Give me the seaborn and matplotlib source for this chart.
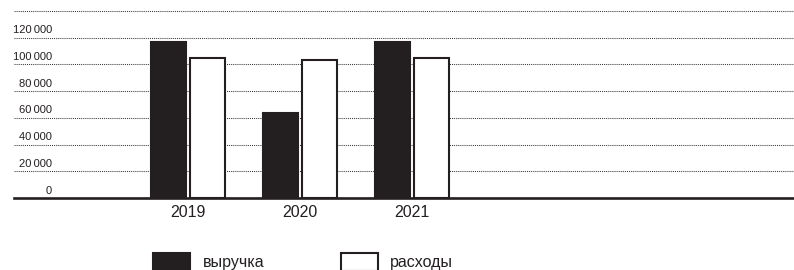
import matplotlib
matplotlib.use("Agg")
import matplotlib.pyplot as plt
import matplotlib.transforms as mtransforms
import seaborn as sns
import pandas as pd

years = ["2019", "2020", "2021"]
revenue = [117000, 64000, 117000]
expenses = [105000, 103000, 105000]
series_names = ["выручка", "расходы"]
ytick_values = [0, 20000, 40000, 60000, 80000, 100000, 120000, 140000]
ytick_labels = ["0", "20\u2009000", "40\u2009000", "60\u2009000", "80\u2009000",
                "100\u2009000", "120\u2009000", ""]

df = pd.DataFrame({
    "year": years * 2,
    "value": revenue + expenses,
    "series": [series_names[0]] * 3 + [series_names[1]] * 3,
})

sns.set_theme(style="white")
plt.rcParams["font.family"] = ["Liberation Sans", "DejaVu Sans"]

INK = "#231f20"
W, H = 794, 270
fig = plt.figure(figsize=(W / 100, H / 100), dpi=100)
ax = fig.add_axes([14 / W, (H - 198) / H, 780 / W, (198 - 8.3) / H])

sns.barplot(data=df, x="year", y="value", hue="series", order=years,
            hue_order=series_names, palette=[INK, "#ffffff"],
            edgecolor=INK, linewidth=1.5, width=0.7, gap=0.1,
            saturation=1, ax=ax, zorder=3)

ax.set_xlim(-1.554, 5.41)
ax.set_ylim(0, 142000)
ax.set_yticks(ytick_values)
ax.set_yticklabels([])
ax.tick_params(axis="y", length=0)
ax.tick_params(axis="x", length=0, pad=5, labelsize=11.5, labelcolor=INK)
ax.set_xlabel("")
ax.set_ylabel("")
ax.yaxis.grid(True, color="#3a3a3a", linestyle=(0, (1, 1)), linewidth=0.75, zorder=0)
ax.set_axisbelow(True)
for s in ["top", "left", "right"]:
    ax.spines[s].set_visible(False)
ax.spines["bottom"].set_color(INK)
ax.spines["bottom"].set_linewidth(1.9)
ax.spines["bottom"].set_zorder(4)

trans = mtransforms.offset_copy(ax.get_yaxis_transform(), fig=fig, x=0, y=4.5, units="dots")
for v, lab in zip(ytick_values, ytick_labels):
    if lab:
        ax.text((52 - 14) / 780, v, lab, transform=trans, ha="right", va="baseline",
                fontsize=8, color=INK)

sns.move_legend(ax, loc="center left", bbox_to_anchor=(153 / W, 1 - 262 / H),
                bbox_transform=fig.transFigure, ncol=2, frameon=False, title=None,
                fontsize=11.5, handlelength=2.3, handleheight=1.35,
                handletextpad=0.8, columnspacing=4.8, borderpad=0, borderaxespad=0)
leg = ax.get_legend()
for t in leg.get_texts():
    t.set_color(INK)

fig.savefig("out.png", dpi=100)
